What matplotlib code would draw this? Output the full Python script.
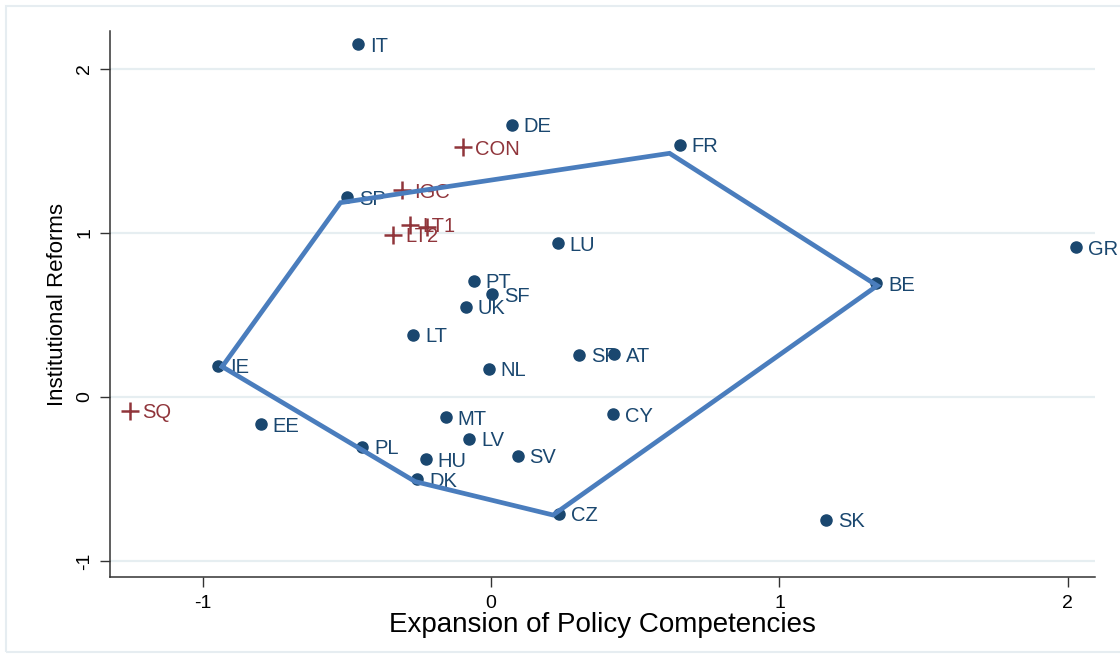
import matplotlib
matplotlib.use("Agg")
import matplotlib.pyplot as plt
from matplotlib.patches import Rectangle

plt.rcParams['font.family'] = ['Liberation Sans', 'DejaVu Sans']
plt.rcParams['axes.unicode_minus'] = False

# member states (navy dots)
states = ["IT", "DE", "FR", "SP", "LU", "GR", "PT", "SF", "UK", "BE", "LT", "SP", "AT",
          "IE", "NL", "MT", "CY", "EE", "LV", "PL", "SV", "HU", "DK", "CZ", "SK"]
states_x = [-0.460, 0.072, 0.654, -0.499, 0.232, 2.029, -0.059, 0.004, -0.088, 1.335, -0.270, 0.306, 0.427,
            -0.945, -0.007, -0.157, 0.422, -0.799, -0.076, -0.446, 0.092, -0.226, -0.255, 0.235, 1.163]
states_y = [2.152, 1.659, 1.537, 1.218, 0.939, 0.913, 0.709, 0.626, 0.551, 0.693, 0.378, 0.256, 0.262,
            0.189, 0.171, -0.124, -0.104, -0.165, -0.256, -0.303, -0.358, -0.380, -0.502, -0.713, -0.750]

# treaty / reference points (red plus)
refs = ["CON", "IGC", "LT1", "", "LT2", "SQ"]
refs_x = [-0.096, -0.309, -0.280, -0.222, -0.339, -1.252]
refs_y = [1.523, 1.262, 1.049, 1.038, 0.988, -0.084]

# hull outline
hull_x = [-0.932, -0.522, 0.619, 1.339, 0.215, -0.263, -0.932]
hull_y = [0.185, 1.185, 1.486, 0.679, -0.720, -0.516, 0.185]

navy = "#1a476f"
maroon = "#90353b"
blue = "#4a7dbd"

fig = plt.figure(figsize=(11.2, 6.58), dpi=100)
fig.patches.append(Rectangle((6/1120, 6/658), 1.2, 1 - 12/658, transform=fig.transFigure,
                             fill=False, edgecolor="#e6edf1", linewidth=1.5, zorder=0))
ax = fig.add_axes([110/1120, 1 - 577/658, (1095 - 110)/1120, (577 - 31)/658])

ax.set_xlim(-1.321, 2.094)
ax.set_ylim(-1.098, 2.232)

for v in [-1, 0, 1, 2]:
    ax.axhline(v, color="#e6eef1", lw=1.6, zorder=0)

ax.plot(states_x, states_y, "o", color=navy, ms=8, zorder=3)
for s, x, y in zip(states, states_x, states_y):
    ax.annotate(s, (x, y), xytext=(8.5, 0), textcoords="offset points",
                ha="left", va="center_baseline", color=navy, fontsize=14.5, zorder=3)

ax.plot(refs_x, refs_y, "+", color=maroon, ms=13, mew=1.8, zorder=3)
for s, x, y in zip(refs, refs_x, refs_y):
    if s:
        ax.annotate(s, (x, y), xytext=(8.5, 0), textcoords="offset points",
                    ha="left", va="center_baseline", color=maroon, fontsize=14.5, zorder=3)

ax.plot(hull_x, hull_y, color=blue, lw=3.4, solid_joinstyle="miter", zorder=4)

for side in ["top", "right"]:
    ax.spines[side].set_visible(False)
for side in ["left", "bottom"]:
    ax.spines[side].set_color("#333333")
    ax.spines[side].set_linewidth(1.1)

ax.set_xticks([-1, 0, 1, 2])
ax.set_yticks([-1, 0, 1, 2])
ax.tick_params(axis="both", direction="out", length=7, width=1, color="#333333", labelsize=14)
ax.tick_params(axis="y", pad=5)
ax.tick_params(axis="x", pad=6)
for lab in ax.get_yticklabels():
    lab.set_rotation(90)
    lab.set_va("center")

ax.set_xlabel("Expansion of Policy Competencies", fontsize=20, labelpad=0)
ax.set_ylabel("Institutional Reforms", fontsize=16, labelpad=6)

fig.savefig("out.png", dpi=100)
